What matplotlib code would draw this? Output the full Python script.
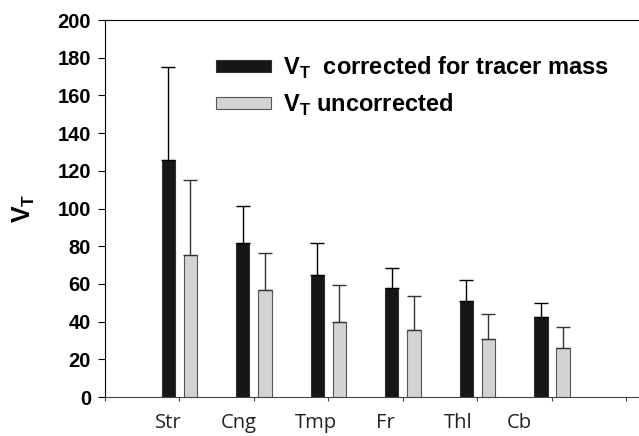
import numpy as np
import matplotlib.pyplot as plt
from matplotlib.patches import Patch

plt.rcParams['font.family'] = ['Liberation Sans', 'DejaVu Sans']
plt.rcParams['mathtext.fontset'] = 'custom'
plt.rcParams['mathtext.rm'] = 'Liberation Sans'
plt.rcParams['mathtext.bf'] = 'Liberation Sans:bold'

# data
regions = ['Str', 'Cng', 'Tmp', 'Fr', 'Thl', 'Cb']
vt_corr = [126, 81.5, 64.9, 57.8, 51.1, 42.6]
vt_corr_err = [49, 20, 17, 10.8, 11, 7.4]
vt_uncorr = [75.3, 56.6, 40, 35.4, 30.6, 25.8]
vt_uncorr_err = [40, 19.6, 19.4, 18, 13.6, 11.5]

fig = plt.figure(figsize=(6.39, 4.36), dpi=100)
ax = fig.add_axes([0.164, 0.0894, 0.836, 0.8646])

x = np.arange(1, len(regions) + 1)
w = 0.18
off = 0.148

ax.bar(x - off, vt_corr, w, color='#161616', edgecolor='#333333', linewidth=0.8,
       yerr=[np.zeros(len(x)), vt_corr_err], error_kw=dict(ecolor='black', elinewidth=1, capsize=5, capthick=1))
ax.bar(x + off, vt_uncorr, w, color='#d3d3d3', edgecolor='#555555', linewidth=0.8,
       yerr=[np.zeros(len(x)), vt_uncorr_err], error_kw=dict(ecolor='#333333', elinewidth=1, capsize=5, capthick=1))

ax.set_xlim(0, 7.17)
ax.set_ylim(0, 200)
ax.set_yticks(np.arange(0, 201, 20))
ax.set_xticks(np.arange(0, 8))
ax.set_xticklabels([])
ax.tick_params(axis='y', direction='out', length=5, labelsize=14.5, pad=5)
ax.tick_params(axis='x', direction='out', length=3, color='#444444')
for lab in ax.get_yticklabels():
    lab.set_fontweight('bold')
ax.spines['right'].set_visible(False)
ax.spines['bottom'].set_color('#444444')

# category labels (placed slightly left of the bar groups, as in the original)
label_pos = [0.846, 1.80, 2.83, 3.77, 4.74, 5.57]
for xp, name in zip(label_pos, regions):
    ax.text(xp, -8.5, name, ha='center', va='top', fontsize=14.5, family='Open Sans',
            color='#222222')

ax.set_ylabel(r'V$_\mathbf{T}$', fontsize=18, fontweight='bold', labelpad=15)

handles = [Patch(facecolor='#161616', edgecolor='#333333', linewidth=0.8),
           Patch(facecolor='#d3d3d3', edgecolor='#555555', linewidth=0.8)]
labels = [r'V$_\mathbf{T}$  corrected for tracer mass', r'V$_\mathbf{T}$ uncorrected']
leg = ax.legend(handles, labels, loc='upper left', bbox_to_anchor=(0.168, 0.965),
                frameon=False, handlelength=2.35, handleheight=0.45, handletextpad=0.5,
                labelspacing=0.45, prop={'size': 17, 'weight': 'bold'})

fig.savefig('out.png', dpi=100)
